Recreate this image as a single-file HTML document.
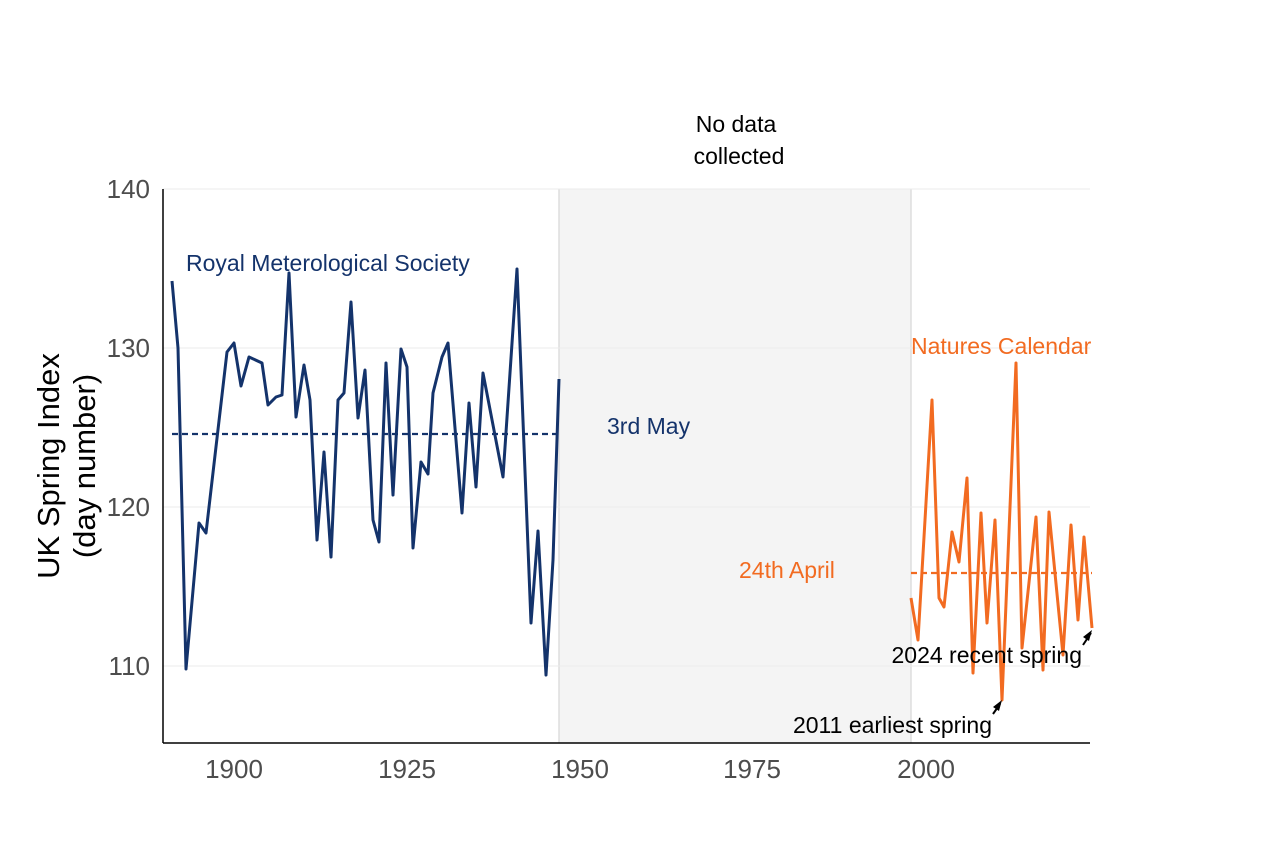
<!DOCTYPE html>
<html><head><meta charset="utf-8"><style>body{margin:0;background:#fff}svg{display:block;font-family:"Liberation Sans",sans-serif}</style></head><body>
<svg width="1280" height="853" viewBox="0 0 1280 853">
<rect x="559" y="189" width="352" height="554" fill="#f4f4f4"/>
<line x1="559" y1="189" x2="559" y2="743" stroke="#ddd" stroke-width="1.5"/>
<line x1="911" y1="189" x2="911" y2="743" stroke="#ddd" stroke-width="1.5"/>
<g stroke="#ebebeb" stroke-width="1">
<line x1="163" y1="189" x2="1090" y2="189"/><line x1="163" y1="348" x2="1090" y2="348"/><line x1="163" y1="507" x2="1090" y2="507"/><line x1="163" y1="666" x2="1090" y2="666"/>
</g>
<line x1="163" y1="189" x2="163" y2="743" stroke="#000" stroke-width="1.5"/>
<line x1="163" y1="743" x2="1090" y2="743" stroke="#000" stroke-width="1.5"/>
<g font-size="26" fill="#4d4d4d" text-anchor="end">
<text x="150" y="198">140</text><text x="150" y="357">130</text><text x="150" y="516">120</text><text x="150" y="675">110</text>
</g>
<g font-size="26" fill="#4d4d4d" text-anchor="middle">
<text x="234" y="778">1900</text><text x="407" y="778">1925</text><text x="580" y="778">1950</text><text x="752" y="778">1975</text><text x="926" y="778">2000</text>
</g>
<text transform="translate(59,466) rotate(-90)" font-size="31" text-anchor="middle" fill="#000">UK Spring Index</text>
<text transform="translate(95,466) rotate(-90)" font-size="31" text-anchor="middle" fill="#000">(day number)</text>
<line x1="172" y1="434" x2="559" y2="434" stroke="#14336b" stroke-width="2.2" stroke-dasharray="6,4"/>
<line x1="911" y1="573" x2="1092" y2="573" stroke="#f26b21" stroke-width="2.2" stroke-dasharray="6,4"/>
<polyline fill="none" stroke="#14336b" stroke-width="3" stroke-linejoin="round" points="172,281 178,348 186,669 199,523 206,533 227,352 234,343 241,386 249,357 262,363 268,405 276,397 282,395 289,273 296,417 304,365 310,400 317,540 324,452 331,557 338,400 344,393 351,302 358,418 365,370 373,520 379,542 386,363 393,495 401,349 407,367 413,548 421,462 428,474 433,393 442,357 448,343 462,513 469,403 476,487 483,373 503,477 517,269 531,623 538,531 546,675 553,560 559,379"/>
<polyline fill="none" stroke="#f26b21" stroke-width="3" stroke-linejoin="round" points="911,598 918,640 932,400 939,598 944,607 952,532 959,562 967,478 973,673 981,513 987,623 995,520 1002,700 1016,363 1022,648 1036,517 1043,670 1049,512 1063,655 1071,525 1078,620 1084,537 1092,628"/>
<text x="186" y="271" font-size="23" fill="#14336b">Royal Meterological Society</text>
<text x="607" y="434" font-size="23" fill="#14336b">3rd May</text>
<text x="911" y="354" font-size="23" fill="#f26b21">Natures Calendar</text>
<text x="739" y="578" font-size="23" fill="#f26b21">24th April</text>
<text x="736" y="132" font-size="23" text-anchor="middle">No data</text>
<text x="739" y="164" font-size="23" text-anchor="middle">collected</text>
<text x="1082" y="663" font-size="23" text-anchor="end">2024 recent spring</text>
<text x="992" y="733" font-size="23" text-anchor="end">2011 earliest spring</text>
<line x1="1083" y1="645" x2="1091" y2="633" stroke="#000" stroke-width="2"/>
<polygon points="1092,630 1089,641 1083,637" fill="#000"/>
<line x1="993" y1="714" x2="1000" y2="704" stroke="#000" stroke-width="2"/>
<polygon points="1002,700 999,711 993,707" fill="#000"/>
</svg>
</body></html>
